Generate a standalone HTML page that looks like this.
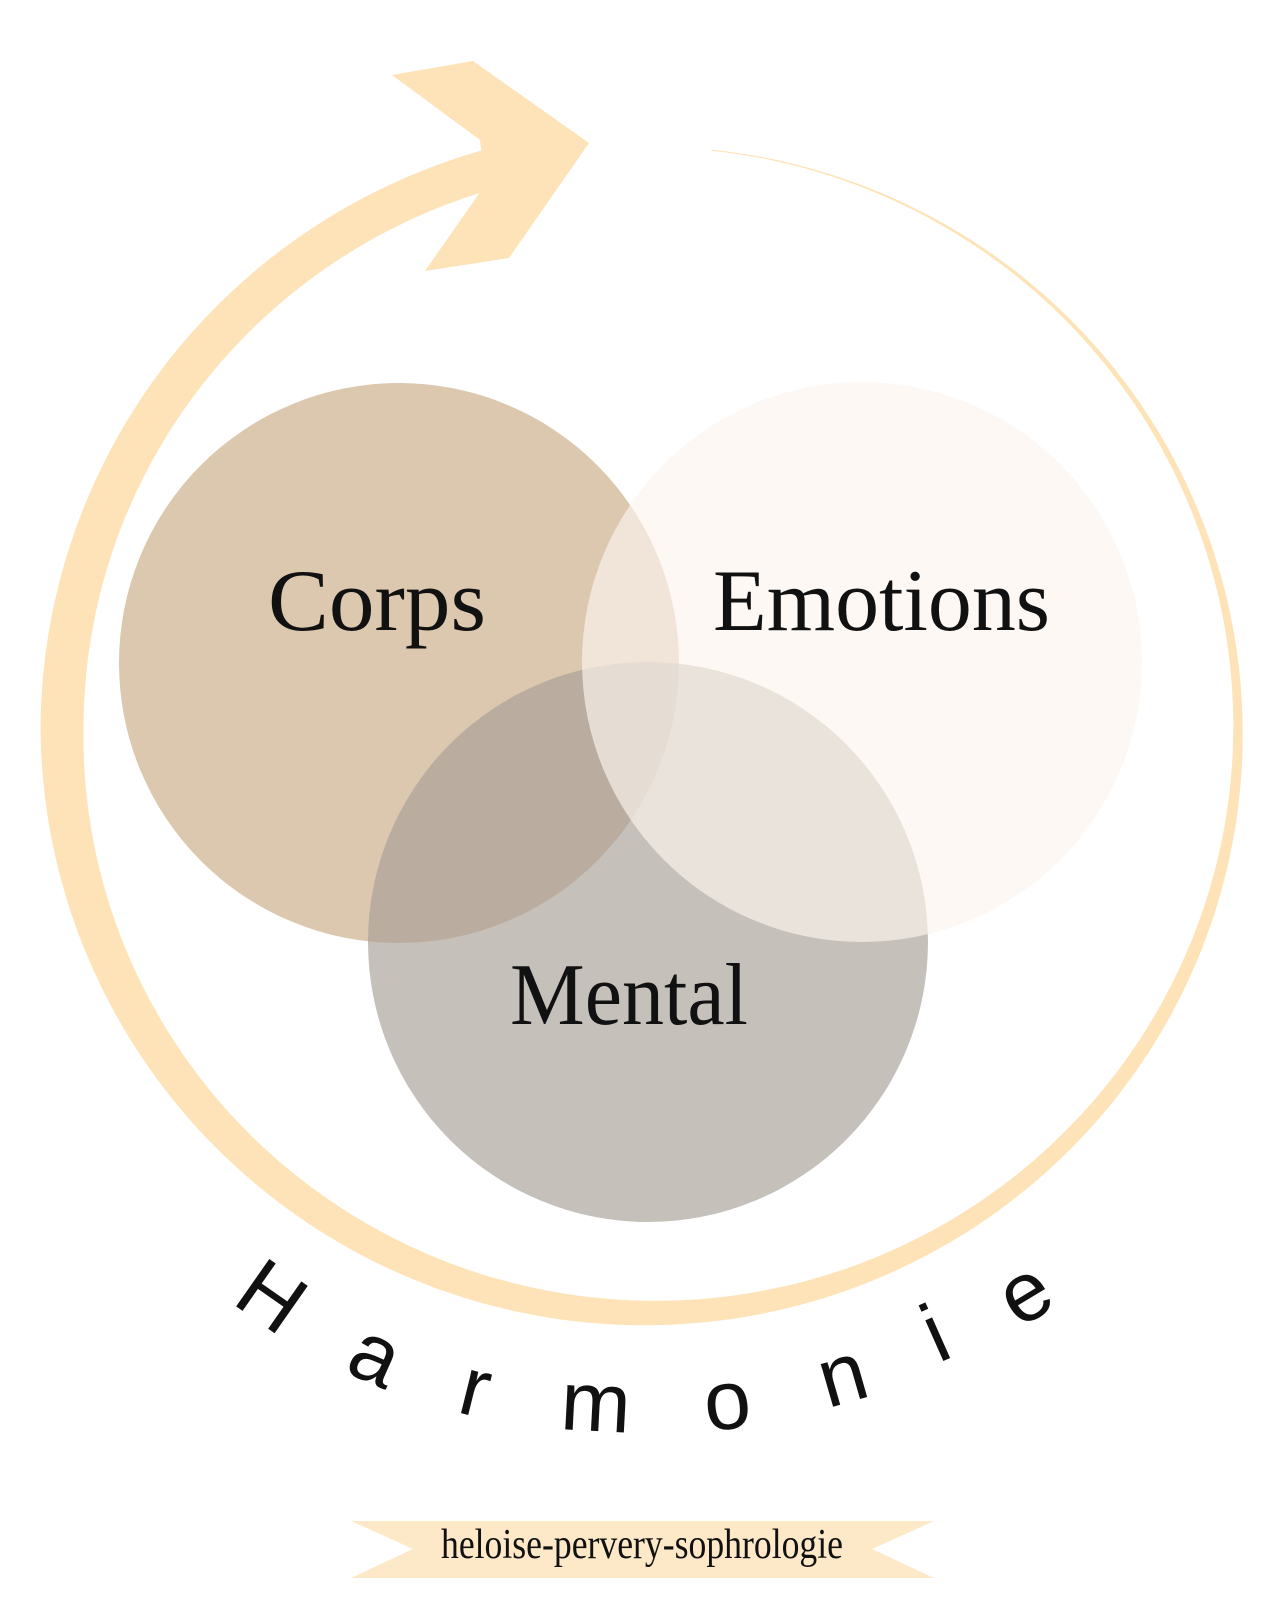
<!DOCTYPE html>
<html><head><meta charset="utf-8"><style>
html,body{margin:0;padding:0;background:#fff;}
svg{display:block}
</style></head><body>
<svg id="s" width="1280" height="1600" viewBox="0 0 1280 1600" xmlns="http://www.w3.org/2000/svg">
<rect width="1280" height="1600" fill="#fff"/>
<path id="ring" fill="#fde3b7"/>
<polygon points="392,75 473,61 589,143 509,258 425,271 485,185 480,140" fill="#fde3b7"/>
<circle cx="399" cy="663" r="280" fill="#dcc7af"/>
<circle cx="648" cy="942" r="280" fill="#a79e95" fill-opacity="0.65"/>
<circle cx="862" cy="662" r="280" fill="#fcf5ee" fill-opacity="0.66"/>
<g font-family="'Liberation Serif',serif" font-size="88" fill="#111">
<text x="268" y="630" textLength="218" lengthAdjust="spacingAndGlyphs">Corps</text>
<text x="713" y="630" textLength="337" lengthAdjust="spacingAndGlyphs">Emotions</text>
<text x="510" y="1024" textLength="238" lengthAdjust="spacingAndGlyphs">Mental</text>
</g>
<g font-family="'Liberation Sans',sans-serif" font-size="84" fill="#111" text-anchor="middle" dominant-baseline="central">
<text transform="translate(272,1296) rotate(35)">H</text>
<text transform="translate(376,1354) rotate(24)">a</text>
<text transform="translate(476,1387) rotate(14)">r</text>
<text transform="translate(596,1402) rotate(3)">m</text>
<text transform="translate(727,1400) rotate(-6)">o</text>
<text transform="translate(842,1374) rotate(-16)">n</text>
<text transform="translate(935,1333) rotate(-24)">i</text>
<text transform="translate(1024,1292) rotate(-31)">e</text>
</g>
<polygon points="351,1521 934,1521 872,1549 934,1578 351,1578 413,1549" fill="#fde8c7"/>
<text x="441" y="1558" textLength="402" lengthAdjust="spacingAndGlyphs" font-family="'Liberation Serif',serif" font-size="42" fill="#111">heloise-pervery-sophrologie</text>
</svg>
<script>
(function(){
var cx=650,cy=730,rx=588,ry=583;
var d0=-84,d1=256;
var N=340,outer=[],inner=[];
for(var i=0;i<=N;i++){
 var t=i/N,deg=d0+(d1-d0)*t,a=deg*Math.PI/180;
 var w;
 if(deg<180){w=1+42*Math.pow((deg-d0)/(180-d0),1.4);}else{w=43-3*(deg-180)/(d1-180);}
 var c=Math.cos(a),s=Math.sin(a);
 outer.push([cx+(rx+w/2)*c,cy+(ry+w/2)*s]);
 inner.push([cx+(rx-w/2)*c,cy+(ry-w/2)*s]);
}
var d="M"+outer.map(function(p){return p[0].toFixed(1)+","+p[1].toFixed(1)}).join("L");
inner.reverse();
d+="L"+inner.map(function(p){return p[0].toFixed(1)+","+p[1].toFixed(1)}).join("L")+"Z";
document.getElementById("ring").setAttribute("d",d);
})();
</script>
</body></html>
